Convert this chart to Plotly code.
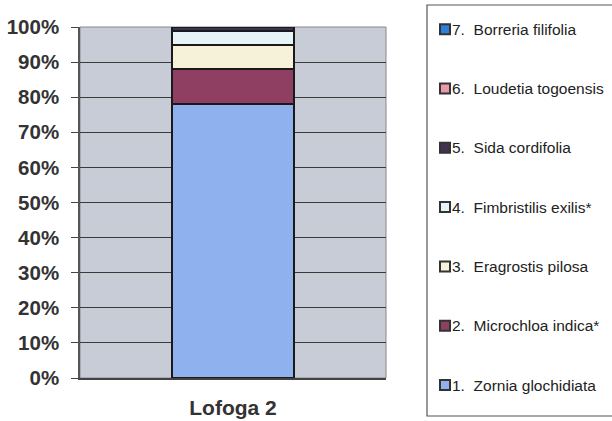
import plotly.graph_objects as go

categories = ["Lofoga 2"]
species = ["1.\u00a0 Zornia glochidiata", "2.\u00a0 Microchloa indica*", "3.\u00a0 Eragrostis pilosa",
           "4.\u00a0 Fimbristilis exilis*", "5.\u00a0 Sida cordifolia", "6.\u00a0 Loudetia togoensis",
           "7.\u00a0 Borreria filifolia"]
values = [78, 10, 7, 4, 1, 0, 0]
colors = ["#8FB2EE", "#8E3F62", "#F6F2DA", "#E6F3F7", "#3F3450", "#E89AA8", "#2E7FD8"]
y_ticks = [0, 10, 20, 30, 40, 50, 60, 70, 80, 90, 100]
y_tick_labels = [f"{v}%" for v in y_ticks]

fig = go.Figure()
for name, v, c in zip(species, values, colors):
    fig.add_trace(go.Bar(x=categories, y=[v], name=name,
                         marker=dict(color=c, line=dict(color="#1a1a1a", width=2)),
                         showlegend=False))

# custom legend (drawn in paper coordinates)
L, T, H, W = 80, 27, 351, 306
def px(x):
    return (x - L) / W
def py(y):
    return (T + H - y) / H

shapes = [dict(type="rect", xref="paper", yref="paper", x0=0, x1=1, y0=0, y1=1,
               line=dict(color="#888", width=1), layer="below"),
          dict(type="rect", xref="paper", yref="paper", x0=px(427), x1=px(640), y0=py(416), y1=py(5),
               line=dict(color="#555", width=1.2), fillcolor="rgba(0,0,0,0)")]
annotations = []
for i, (name, c) in enumerate(zip(species, colors)):
    yc = 385 - i * 59.3
    shapes.append(dict(type="rect", xref="paper", yref="paper", x0=px(440), x1=px(450),
                       y0=py(yc + 5), y1=py(yc - 5),
                       line=dict(color="#333", width=2), fillcolor=c))
    annotations.append(dict(xref="paper", yref="paper", x=px(451), y=py(yc), text=name, showarrow=False,
                            xanchor="left", yanchor="middle", borderpad=0,
                            font=dict(family="Arial, Liberation Sans", size=15.5, color="#222")))

fig.update_layout(
    barmode="stack", bargap=0.6,
    width=612, height=421,
    margin=dict(l=80, r=226, t=27, b=43, autoexpand=False),
    paper_bgcolor="white", plot_bgcolor="#C8CCD6",
    shapes=shapes, annotations=annotations,
    showlegend=False,
    font=dict(family="Arial, Liberation Sans"),
)
fig.update_yaxes(range=[0, 100], tickvals=y_ticks, ticktext=y_tick_labels, showgrid=True,
                 gridcolor="#3a3a3a", gridwidth=1.3,
                 showline=True, linecolor="#555", linewidth=1.5, ticks="outside", ticklen=7, tickcolor="#444",
                 ticklabelstandoff=8,
                 tickfont=dict(family="Arial, Liberation Sans", size=20.5, color="#333", weight="bold"),
                 zeroline=False, automargin=False)
fig.update_xaxes(showline=True, linecolor="#444", linewidth=1.5, ticks="outside", ticklen=10,
                 tickcolor="rgba(0,0,0,0)", automargin=False,
                 tickfont=dict(family="Arial, Liberation Sans", size=21, color="#333", weight="bold"))

fig.write_html("out.html", config={"displayModeBar": False},
               post_script="document.body.style.margin='0';")
